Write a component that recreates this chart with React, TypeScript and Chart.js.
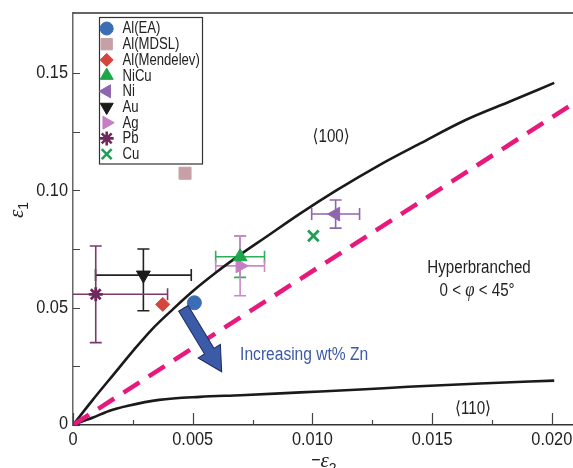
import React, { useEffect, useRef } from 'react';
import { Chart, registerables } from 'chart.js';
import { drawPoint } from 'chart.js/helpers';

Chart.register(...registerables);

const FONT = '"Liberation Sans", Arial, "DejaVu Sans", sans-serif';
const SERIF = '"Liberation Serif", "DejaVu Serif", serif';
const SX = 0.84; // horizontal condensing to mimic a condensed grotesque

// ---- axes ----
const xTickValues = [0, 0.0025, 0.005, 0.0075, 0.01, 0.0125, 0.015, 0.0175, 0.02];
const xTickLabels = ['0', '', '0.005', '', '0.010', '', '0.015', '', '0.020'];
const yTickValues = [0, 0.025, 0.05, 0.075, 0.1, 0.125, 0.15];
const yTickLabels = ['0', '', '0.05', '', '0.10', '', '0.15'];
const xMax = 0.020885;
const yMax = 0.1756;

// ---- measured series ----
const seriesNames = ['Al(EA)', 'Al(MDSL)', 'Al(Mendelev)', 'NiCu', 'Ni', 'Au', 'Ag', 'Pb', 'Cu'];
const seriesX = [0.00507, 0.00468, 0.00375, 0.00698, 0.01097, 0.00294, 0.00698, 0.00095, 0.01004];
const seriesY = [0.0521, 0.1073, 0.0514, 0.0717, 0.0899, 0.0639, 0.0678, 0.0557, 0.0806];
const xErr = [0, 0, 0, 0.00102, 0.001, 0.002, 0.00102, 0.003, 0];
const yErrPlus = [0, 0, 0, 0.0088, 0.006, 0.0111, 0.0127, 0.0206, 0];
const yErrMinus = [0, 0, 0, 0.0088, 0.006, 0.0152, 0.0127, 0.0206, 0];
const seriesColors = ['#3b6db5', '#c6a0a4', '#d6453d', '#1ea64b', '#8e66b0', '#1a1a1a', '#c57ec4', '#6e2a5c', '#1f9e55'];
const errColors = ['#3b6db5', '#c6a0a4', '#d6453d', '#2fae58', '#8e66b0', '#222222', '#c98ac6', '#7d3a68', '#1f9e55'];
const pointStyles = ['circle', 'rect', 'rectRot', 'triangle', 'triangle', 'triangle', 'triangle', 'star', 'crossRot'];
const pointRotations = [0, 0, 0, 0, -90, 180, 90, 0, 0];
const pointRadii = [7, 8.5, 7, 8, 8, 8, 8, 7, 7.5];
const legendRadii = [6.5, 8, 6.5, 7.5, 7.5, 7.5, 7.5, 7, 7];

// ---- model curves ----
const curve100X = [0, 0.0008, 0.0017, 0.0025, 0.0033, 0.0042, 0.005, 0.006, 0.007, 0.008, 0.0095, 0.011, 0.0128, 0.0145, 0.0164, 0.0183, 0.0201];
const curve100Y = [0, 0.0104, 0.0216, 0.0315, 0.0408, 0.0496, 0.057, 0.0652, 0.0727, 0.0797, 0.0902, 0.1, 0.1108, 0.12, 0.13, 0.1381, 0.1458];
const curve110X = [0, 0.0004, 0.00084, 0.0015, 0.0023, 0.0036, 0.0053, 0.007, 0.0095, 0.012, 0.014, 0.017, 0.0201];
const curve110Y = [0, 0.0016, 0.0032, 0.006, 0.0082, 0.0107, 0.012, 0.0127, 0.0139, 0.0151, 0.0163, 0.0177, 0.0189];
const boundaryX = [0, 0.021];
const boundaryY = [0, 0.1377];

// ---- arrow ----
const arrowFrom = [0.00461, 0.0497];
const arrowTo = [0.00621, 0.0227];

const toXY = (xs: number[], ys: number[]) => xs.map((v, i) => ({ x: v, y: ys[i] }));

function txt(ctx: CanvasRenderingContext2D, s: string, x: number, y: number, font: string, align: CanvasTextAlign, color: string, sx = SX) {
  ctx.save();
  ctx.font = font;
  ctx.fillStyle = color;
  ctx.textAlign = align;
  ctx.textBaseline = 'middle';
  ctx.translate(x, y);
  ctx.scale(sx, 1);
  ctx.fillText(s, 0, 0);
  ctx.restore();
}

function drawSegs(ctx: CanvasRenderingContext2D, segs: [string, string][], cx: number, cy: number, color: string) {
  ctx.save();
  ctx.textBaseline = 'middle';
  ctx.textAlign = 'left';
  ctx.fillStyle = color;
  let total = 0;
  for (const [t, f] of segs) { ctx.font = f; total += ctx.measureText(t).width; }
  ctx.translate(cx - (total * SX) / 2, cy);
  ctx.scale(SX, 1);
  let px = 0;
  for (const [t, f] of segs) { ctx.font = f; ctx.fillText(t, px, 0); px += ctx.measureText(t).width; }
  ctx.restore();
}

const overlay = {
  id: 'overlay',
  beforeDatasetsDraw(chart: any) {
    const { ctx, chartArea, scales } = chart;
    const x = scales.x, y = scales.y;
    ctx.save();
    ctx.beginPath();
    ctx.rect(chartArea.left, chartArea.top, chartArea.right - chartArea.left, chartArea.bottom - chartArea.top);
    ctx.clip();
    const cap = 6;
    seriesNames.forEach((_, i) => {
      const cx = x.getPixelForValue(seriesX[i]);
      const cy = y.getPixelForValue(seriesY[i]);
      ctx.strokeStyle = errColors[i];
      ctx.lineWidth = 1.6;
      if (xErr[i]) {
        const l = x.getPixelForValue(seriesX[i] - xErr[i]);
        const r = x.getPixelForValue(seriesX[i] + xErr[i]);
        ctx.beginPath();
        ctx.moveTo(l, cy); ctx.lineTo(r, cy);
        ctx.moveTo(l, cy - cap); ctx.lineTo(l, cy + cap);
        ctx.moveTo(r, cy - cap); ctx.lineTo(r, cy + cap);
        ctx.stroke();
      }
      if (yErrPlus[i] || yErrMinus[i]) {
        const t = y.getPixelForValue(seriesY[i] + yErrPlus[i]);
        const b = y.getPixelForValue(seriesY[i] - yErrMinus[i]);
        ctx.beginPath();
        ctx.moveTo(cx, t); ctx.lineTo(cx, b);
        ctx.moveTo(cx - cap, t); ctx.lineTo(cx + cap, t);
        ctx.moveTo(cx - cap, b); ctx.lineTo(cx + cap, b);
        ctx.stroke();
      }
    });
    ctx.restore();
  },
  afterDatasetsDraw(chart: any) {
    const { ctx, scales } = chart;
    const x = scales.x, y = scales.y;
    const p0 = { x: x.getPixelForValue(arrowFrom[0]), y: y.getPixelForValue(arrowFrom[1]) };
    const p1 = { x: x.getPixelForValue(arrowTo[0]), y: y.getPixelForValue(arrowTo[1]) };
    const ang = Math.atan2(p1.y - p0.y, p1.x - p0.x);
    const len = Math.hypot(p1.x - p0.x, p1.y - p0.y);
    const sw = 5.5, hw = 13, hl = 24;
    ctx.save();
    ctx.translate(p0.x, p0.y);
    ctx.rotate(ang);
    ctx.beginPath();
    ctx.moveTo(0, -sw);
    ctx.lineTo(len - hl, -sw);
    ctx.lineTo(len - hl, -hw);
    ctx.lineTo(len, 0);
    ctx.lineTo(len - hl, hw);
    ctx.lineTo(len - hl, sw);
    ctx.lineTo(0, sw);
    ctx.closePath();
    ctx.fillStyle = '#3b5ba9';
    ctx.fill();
    ctx.strokeStyle = '#1c2a5e';
    ctx.lineWidth = 1;
    ctx.stroke();
    ctx.restore();
  },
  afterDraw(chart: any) {
    const { ctx, chartArea, scales } = chart;
    const x = scales.x, y = scales.y;
    ctx.save();
    ctx.strokeStyle = '#333';
    ctx.lineWidth = 1.5;
    ctx.beginPath();
    ctx.moveTo(chartArea.left, chartArea.top);
    ctx.lineTo(chartArea.right, chartArea.top);
    ctx.stroke();
    ctx.strokeStyle = '#444';
    ctx.lineWidth = 1.2;
    ctx.beginPath();
    xTickValues.forEach((v, i) => {
      const px = Math.round(x.getPixelForValue(v)) + 0.5;
      const l = xTickLabels[i] ? 12 : 5;
      ctx.moveTo(px, chartArea.bottom);
      ctx.lineTo(px, chartArea.bottom - l);
    });
    yTickValues.forEach((v) => {
      const py = Math.round(y.getPixelForValue(v)) + 0.5;
      ctx.moveTo(chartArea.left, py);
      ctx.lineTo(chartArea.left + 7, py);
    });
    ctx.stroke();
    ctx.restore();

    // tick labels
    const tk = `19px ${FONT}`;
    xTickValues.forEach((v, i) => {
      if (xTickLabels[i]) txt(ctx, xTickLabels[i], x.getPixelForValue(v), chartArea.bottom + 15, tk, 'center', '#222', 0.86);
    });
    yTickValues.forEach((v, i) => {
      if (yTickLabels[i]) txt(ctx, yTickLabels[i], chartArea.left - 5, y.getPixelForValue(v) - (v === 0 ? 1 : 0), tk, 'right', '#222', 0.86);
    });

    // annotations
    const tf = `18px ${FONT}`;
    drawSegs(ctx, [['\u27E8100\u27E9', tf]], x.getPixelForValue(0.01078), y.getPixelForValue(0.1226), '#222');
    drawSegs(ctx, [['\u27E8110\u27E9', tf]], x.getPixelForValue(0.01671), y.getPixelForValue(0.0068), '#222');
    drawSegs(ctx, [['Hyperbranched', tf]], x.getPixelForValue(0.01696), y.getPixelForValue(0.0669), '#222');
    drawSegs(ctx, [['0 < ', tf], ['\u03C6', `italic 20px ${SERIF}`], [' < 45\u00B0', tf]], x.getPixelForValue(0.01688), y.getPixelForValue(0.0572), '#222');
    txt(ctx, 'Increasing wt% Zn', x.getPixelForValue(0.00698), y.getPixelForValue(0.0298), tf, 'left', '#3d5aa8', 0.865);

    // axis titles
    ctx.save();
    ctx.fillStyle = '#222';
    ctx.textBaseline = 'alphabetic';
    ctx.textAlign = 'left';
    const cxT = (chartArea.left + chartArea.right) / 2;
    ctx.font = `19px ${FONT}`;
    const mW = ctx.measureText('\u2212').width * SX;
    ctx.font = `italic 21px ${SERIF}`;
    const eW = ctx.measureText('\u03B5').width;
    const sx0 = cxT - (mW + eW + 6) / 2;
    txt(ctx, '\u2212', sx0, 461, `19px ${FONT}`, 'left', '#222');
    ctx.font = `italic 21px ${SERIF}`;
    ctx.fillText('\u03B5', sx0 + mW, 467);
    ctx.font = `14px ${FONT}`;
    ctx.fillText('2', sx0 + mW + eW, 473);
    ctx.restore();

    ctx.save();
    ctx.translate(23, 218);
    ctx.rotate(-Math.PI / 2);
    ctx.fillStyle = '#222';
    ctx.textAlign = 'left';
    ctx.textBaseline = 'alphabetic';
    ctx.font = `italic 21px ${SERIF}`;
    ctx.fillText('\u03B5', 0, 0);
    const ew = ctx.measureText('\u03B5').width;
    ctx.font = `14px ${FONT}`;
    ctx.fillText('1', ew, 5);
    ctx.restore();

    // legend
    ctx.save();
    ctx.strokeStyle = '#333';
    ctx.lineWidth = 1.2;
    ctx.fillStyle = '#fff';
    ctx.fillRect(99.5, 17.5, 103, 146.5);
    ctx.strokeRect(99.5, 17.5, 103, 146.5);
    seriesNames.forEach((name, i) => {
      const ly = 28.5 + i * 15.7;
      ctx.fillStyle = seriesColors[i];
      ctx.strokeStyle = seriesColors[i];
      const st = pointStyles[i];
      ctx.lineWidth = st === 'star' || st === 'crossRot' ? 2.6 : 1;
      drawPoint(ctx, { pointStyle: st, rotation: pointRotations[i], radius: legendRadii[i], borderWidth: ctx.lineWidth } as any, 106.7, ly);
      txt(ctx, name, 122.5, ly + 0.5, `16px ${FONT}`, 'left', '#222', 0.82);
    });
    ctx.restore();
  },
};

export default function App() {
  const ref = useRef<HTMLCanvasElement>(null);
  useEffect(() => {
    if (!ref.current) return;
    const pointSets = seriesNames.map((name, i) => {
      const st = pointStyles[i];
      const lineStyle = st === 'star' || st === 'crossRot';
      return {
        label: name,
        data: [{ x: seriesX[i], y: seriesY[i] }],
        showLine: false,
        pointStyle: st,
        rotation: pointRotations[i],
        pointRadius: pointRadii[i],
        backgroundColor: seriesColors[i],
        borderColor: seriesColors[i],
        pointBorderWidth: lineStyle ? 2.8 : 1,
        order: 0,
      };
    });
    const lineSets = [
      { label: '<100>', data: toXY(curve100X, curve100Y), showLine: true, borderColor: '#1a1a1a', borderWidth: 2.6, pointRadius: 0, cubicInterpolationMode: 'monotone', order: 2 },
      { label: '<110>', data: toXY(curve110X, curve110Y), showLine: true, borderColor: '#1a1a1a', borderWidth: 2.6, pointRadius: 0, cubicInterpolationMode: 'monotone', order: 2 },
      { label: 'boundary', data: toXY(boundaryX, boundaryY), showLine: true, borderColor: '#e8197d', borderWidth: 4.5, borderDash: [19, 11], pointRadius: 0, order: 1 },
    ];
    const chart = new Chart(ref.current, {
      type: 'scatter',
      data: { datasets: [...pointSets, ...lineSets] as any },
      options: {
        animation: false,
        responsive: false,
        devicePixelRatio: 1,
        layout: { autoPadding: false, padding: { top: 13, right: 0, left: 0, bottom: 0 } },
        plugins: { legend: { display: false }, tooltip: { enabled: false } },
        scales: {
          x: {
            type: 'linear',
            min: 0,
            max: xMax,
            grid: { display: false },
            border: { display: true, color: '#333', width: 1.5 },
            afterBuildTicks: (s: any) => { s.ticks = xTickValues.map((v) => ({ value: v })); },
            afterFit: (s: any) => { s.height = 43; },
            ticks: { display: false },
          },
          y: {
            type: 'linear',
            min: 0,
            max: yMax,
            grid: { display: false },
            border: { display: true, color: '#666', width: 1.5 },
            afterBuildTicks: (s: any) => { s.ticks = yTickValues.map((v) => ({ value: v })); },
            afterFit: (s: any) => { s.width = 73; },
            ticks: { display: false },
          },
        },
      },
      plugins: [overlay],
    } as any);
    return () => chart.destroy();
  }, []);
  return (
    <div style={{ position: 'absolute', left: 0, top: 0, width: 573, height: 468, background: '#fff' }}>
      <canvas ref={ref} width={573} height={468} style={{ display: 'block' }} />
    </div>
  );
}
